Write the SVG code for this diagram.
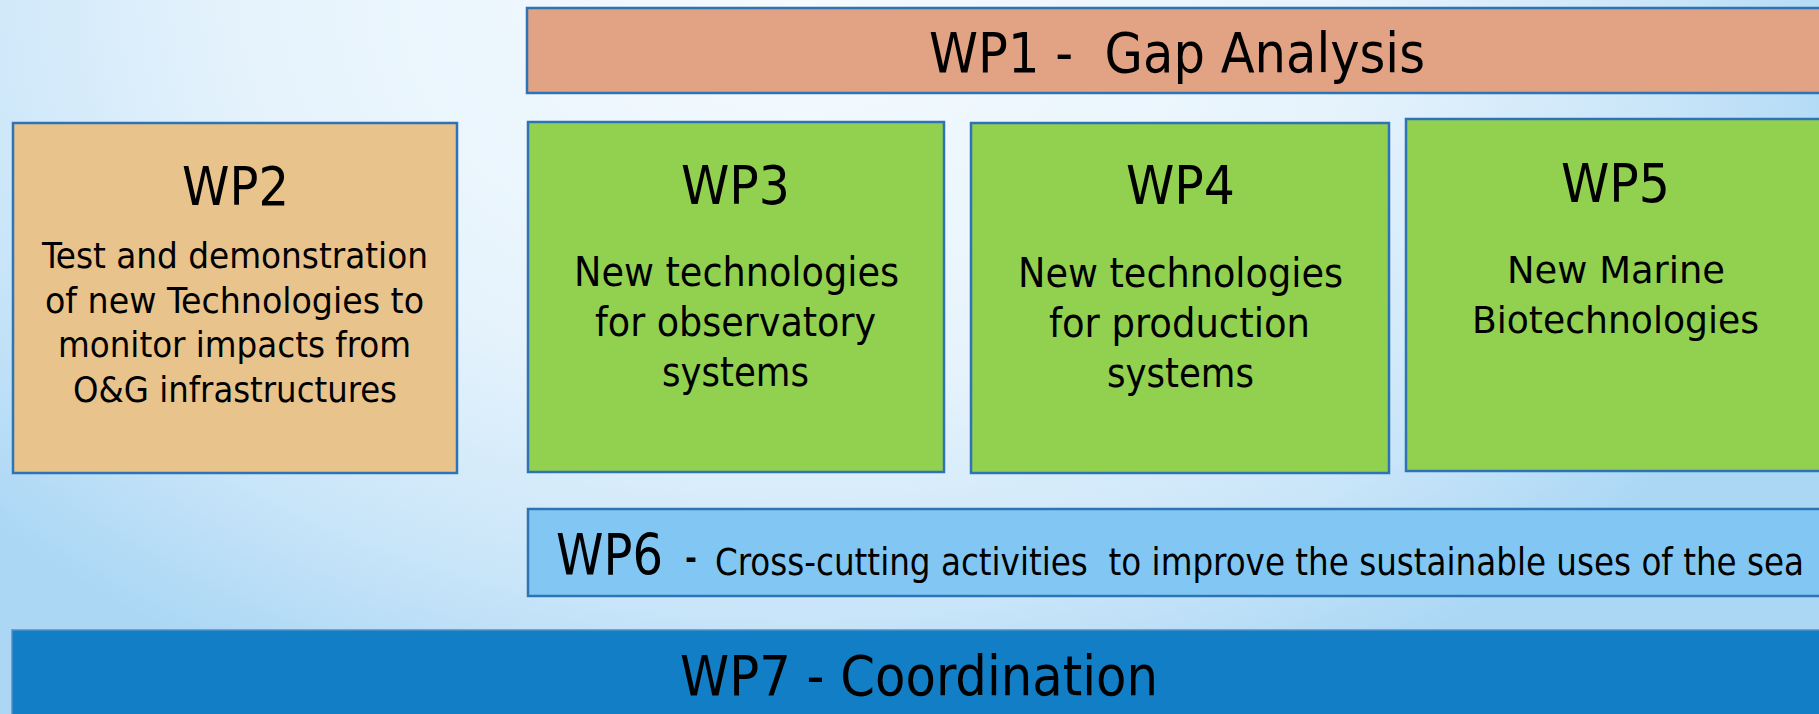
<svg xmlns="http://www.w3.org/2000/svg" width="1819" height="714" viewBox="0 0 1819 714">
  <defs>
    <radialGradient id="bg" gradientUnits="userSpaceOnUse" cx="800" cy="0" r="1100" gradientTransform="translate(800 0) scale(1 0.7) translate(-800 0)">
      <stop offset="0" stop-color="#f5fbff"/>
      <stop offset="0.5" stop-color="#e6f3fc"/>
      <stop offset="0.78" stop-color="#cbe6f9"/>
      <stop offset="1" stop-color="#abd7f5"/>
    </radialGradient>
  </defs>
  <style>
    .box { stroke: #2e74b5; stroke-width: 2.5; }
    .wp1 { fill: #e2a284; }
    .wp2 { fill: #e8c38c; }
    .green { fill: #92d050; }
    .wp6 { fill: #82c7f3; }
    .wp7 { fill: #127ec6; stroke: #4e93c8; stroke-width: 1.5; }
    text { font-family: "DejaVu Sans Condensed", "DejaVu Sans", Verdana, sans-serif; font-stretch: condensed; fill: #000; }
  </style>

  <rect x="0" y="0" width="1819" height="714" fill="url(#bg)"/>

  <!-- WP1: gap analysis banner -->
  <g id="wp1">
    <rect class="box wp1" x="527" y="8" width="1310" height="85"/>
    <text x="929" y="72" font-size="55" textLength="496" lengthAdjust="spacingAndGlyphs" xml:space="preserve">WP1 -  Gap Analysis</text>
  </g>

  <!-- WP2: test and demonstration -->
  <g id="wp2">
    <rect class="box wp2" x="13" y="123" width="444" height="350"/>
    <text x="182" y="205" font-size="54" textLength="107" lengthAdjust="spacingAndGlyphs">WP2</text>
    <text x="42" y="268" font-size="35" textLength="386" lengthAdjust="spacingAndGlyphs">Test and demonstration</text>
    <text x="45" y="313" font-size="35" textLength="379" lengthAdjust="spacingAndGlyphs">of new Technologies to</text>
    <text x="58" y="357" font-size="35" textLength="353" lengthAdjust="spacingAndGlyphs">monitor impacts from</text>
    <text x="73" y="402" font-size="35" textLength="324" lengthAdjust="spacingAndGlyphs">O&amp;G infrastructures</text>
  </g>

  <!-- WP3: observatory systems -->
  <g id="wp3">
    <rect class="box green" x="528" y="122" width="416" height="350"/>
    <text x="681" y="204" font-size="54" textLength="109" lengthAdjust="spacingAndGlyphs">WP3</text>
    <text x="574" y="286" font-size="40" textLength="325" lengthAdjust="spacingAndGlyphs">New technologies</text>
    <text x="595" y="336" font-size="40" textLength="281" lengthAdjust="spacingAndGlyphs">for observatory</text>
    <text x="662" y="386" font-size="40" textLength="147" lengthAdjust="spacingAndGlyphs">systems</text>
  </g>

  <!-- WP4: production systems -->
  <g id="wp4">
    <rect class="box green" x="971" y="123" width="418" height="350"/>
    <text x="1126" y="204" font-size="54" textLength="109" lengthAdjust="spacingAndGlyphs">WP4</text>
    <text x="1018" y="287" font-size="40" textLength="325" lengthAdjust="spacingAndGlyphs">New technologies</text>
    <text x="1049" y="337" font-size="40" textLength="261" lengthAdjust="spacingAndGlyphs">for production</text>
    <text x="1107" y="387" font-size="40" textLength="147" lengthAdjust="spacingAndGlyphs">systems</text>
  </g>

  <!-- WP5: marine biotechnologies -->
  <g id="wp5">
    <rect class="box green" x="1406" y="119" width="430" height="352"/>
    <text x="1561" y="202" font-size="54" textLength="109" lengthAdjust="spacingAndGlyphs">WP5</text>
    <text x="1507" y="283" font-size="38" textLength="218" lengthAdjust="spacingAndGlyphs">New Marine</text>
    <text x="1472" y="333" font-size="38" textLength="287" lengthAdjust="spacingAndGlyphs">Biotechnologies</text>
  </g>

  <!-- WP6: cross-cutting activities -->
  <g id="wp6">
    <rect class="box wp6" x="528" y="509" width="1310" height="87"/>
    <text x="556" y="575" font-size="57" textLength="107" lengthAdjust="spacingAndGlyphs">WP6</text>
    <text x="685" y="575" font-size="57" textLength="12" lengthAdjust="spacingAndGlyphs">-</text>
    <text x="715" y="575" font-size="37" textLength="1089" lengthAdjust="spacingAndGlyphs" xml:space="preserve">Cross-cutting activities  to improve the sustainable uses of the sea</text>
  </g>

  <!-- WP7: coordination -->
  <g id="wp7">
    <rect class="wp7" x="12" y="630" width="1830" height="100"/>
    <text x="680" y="695" font-size="55" textLength="478" lengthAdjust="spacingAndGlyphs">WP7 - Coordination</text>
  </g>

  <g id="connectors"/>
</svg>
